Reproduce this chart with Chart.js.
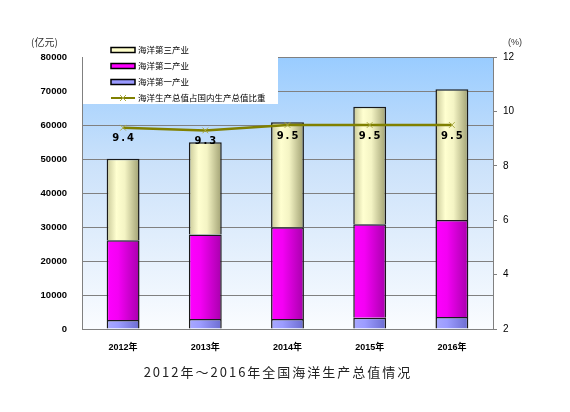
<!DOCTYPE html>
<html>
<head>
<meta charset="utf-8">
<script src="https://cdn.jsdelivr.net/npm/chart.js@4"></script>
<style>
  html, body { margin: 0; padding: 0; background: #fff; }
  #wrap { width: 570px; height: 412px; position: relative; }
</style>
</head>
<body>
<div id="wrap"><canvas id="oceanChart" width="570" height="412"></canvas></div>
<script>
// Data
const years = ['2012年', '2013年', '2014年', '2015年', '2016年'];
const primary = [2683, 2918, 2920, 3292, 3566];      // 海洋第一产业
const secondary = [23450, 24908, 27000, 27492, 28488]; // 海洋第二产业
const tertiary = [23954, 27100, 30900, 34600, 38453];  // 海洋第三产业
const gdpShare = [9.4, 9.3, 9.5, 9.5, 9.5];            // 占国内生产总值比重 (%)

const chartTitle = '2012年～2016年全国海洋生产总值情况';
const leftUnit = '(亿元)';
const rightUnit = '(%)';

const BAR_PCT = 0.4;
const latin = '"Liberation Sans", "Noto Sans CJK SC", sans-serif';
const cjk = '"Noto Sans CJK SC", sans-serif';

// horizontal "cylinder" shading for each bar
function barFill(stops) {
    return (c) => {
        const chart = c.chart;
        if (!chart.chartArea || c.dataIndex === undefined) return stops[0][1];
        const xs = chart.scales.x;
        const cx = xs.getPixelForValue(c.dataIndex);
        const half = xs.width / years.length * BAR_PCT / 2;
        const g = chart.ctx.createLinearGradient(cx - half, 0, cx + half, 0);
        stops.forEach(s => g.addColorStop(s[0], s[1]));
        return g;
    };
}

const legendItems = [
    { text: '海洋第三产业', fill: '#FFFFCC' },
    { text: '海洋第二产业', fill: '#FF00FF' },
    { text: '海洋第一产业', fill: '#9999FF' },
    { text: '海洋生产总值占国内生产总值比重', line: true }
];

const decor = {
    id: 'decor',
    beforeDraw(chart) {
        const { ctx, chartArea: a } = chart;
        ctx.save();
        ctx.fillStyle = '#fff';
        ctx.fillRect(0, 0, chart.width, chart.height);
        const g = ctx.createLinearGradient(0, a.top, 0, a.bottom);
        g.addColorStop(0, '#99CCFF');
        g.addColorStop(0.4, '#CCE2FA');
        g.addColorStop(1, '#FAFCFF');
        ctx.fillStyle = g;
        ctx.fillRect(a.left, a.top, a.right - a.left, a.bottom - a.top);
        ctx.restore();
    },
    afterDatasetsDraw(chart) {
        const { ctx } = chart;
        const meta = chart.getDatasetMeta(3);
        ctx.save();
        ctx.font = 'bold 10px "DejaVu Sans", sans-serif';
        ctx.letterSpacing = '2px';
        ctx.fillStyle = '#000';
        ctx.textAlign = 'center';
        ctx.textBaseline = 'middle';
        meta.data.forEach((pt, i) => {
            ctx.fillText(gdpShare[i].toFixed(1), pt.x + 1, pt.y + 11);
        });
        ctx.restore();
    },
    afterDraw(chart) {
        const { ctx, chartArea: a } = chart;
        ctx.save();
        // legend box
        ctx.fillStyle = '#fff';
        ctx.fillRect(a.left + 1, 38, 195, 66);
        ctx.font = '8.5px ' + cjk;
        ctx.textBaseline = 'middle';
        legendItems.forEach((it, i) => {
            const y = 50 + i * 16;
            if (it.line) {
                ctx.strokeStyle = '#808000';
                ctx.lineWidth = 2;
                ctx.beginPath(); ctx.moveTo(111, y); ctx.lineTo(135, y); ctx.stroke();
                ctx.strokeStyle = '#A8A840';
                ctx.lineWidth = 1;
                ctx.beginPath();
                ctx.moveTo(120, y - 3); ctx.lineTo(126, y + 3);
                ctx.moveTo(126, y - 3); ctx.lineTo(120, y + 3);
                ctx.stroke();
            } else {
                ctx.fillStyle = it.fill;
                ctx.fillRect(111, y - 2.5, 24, 5);
                ctx.strokeStyle = '#000';
                ctx.lineWidth = 1.5;
                ctx.strokeRect(111, y - 2.5, 24, 5);
            }
            ctx.fillStyle = '#000';
            ctx.textAlign = 'left';
            ctx.fillText(it.text, 138, y);
        });
        // units
        ctx.font = '10px ' + cjk;
        ctx.fillStyle = '#333';
        ctx.textAlign = 'left';
        ctx.fillText(leftUnit, 31, 42);
        ctx.font = '9px ' + latin;
        ctx.fillText(rightUnit, 508, 43);
        // title
        ctx.font = '13px ' + cjk;
        ctx.letterSpacing = '2px';
        ctx.fillStyle = '#222';
        ctx.textAlign = 'center';
        ctx.fillText(chartTitle, 278, 372);
        ctx.restore();
    }
};

const ctx = document.getElementById('oceanChart').getContext('2d');

new Chart(ctx, {
    data: {
        labels: years,
        datasets: [
            {
                type: 'bar', label: '海洋第一产业', data: primary, order: 1,
                backgroundColor: barFill([[0, '#A8A8FF'], [0.35, '#9C9CFF'], [1, '#6C6CD0']]),
                borderColor: '#1a1a1a', borderWidth: 1.5,
                barPercentage: BAR_PCT, categoryPercentage: 1
            },
            {
                type: 'bar', label: '海洋第二产业', data: secondary, order: 1,
                backgroundColor: barFill([[0, '#FF00FF'], [0.35, '#F400F4'], [1, '#A800AC']]),
                borderColor: '#1a1a1a', borderWidth: 1.5,
                barPercentage: BAR_PCT, categoryPercentage: 1
            },
            {
                type: 'bar', label: '海洋第三产业', data: tertiary, order: 1,
                backgroundColor: barFill([[0, '#C8C898'], [0.3, '#FFFFD0'], [0.55, '#F4F4C4'], [1, '#A0A072']]),
                borderColor: '#1a1a1a', borderWidth: 1.5,
                barPercentage: BAR_PCT, categoryPercentage: 1
            },
            {
                type: 'line', label: '海洋生产总值占国内生产总值比重', data: gdpShare, order: 0,
                yAxisID: 'y1',
                borderColor: '#808000', borderWidth: 2.5,
                pointStyle: 'crossRot', pointRadius: 4,
                pointBorderColor: '#A8A840', pointBorderWidth: 1,
                tension: 0
            }
        ]
    },
    options: {
        responsive: false,
        animation: false,
        devicePixelRatio: 1,
        layout: { padding: { top: 57, left: 0, right: 0, bottom: 0 } },
        plugins: { legend: { display: false }, tooltip: { enabled: false } },
        scales: {
            x: {
                stacked: true,
                afterFit: s => { s.height = 83; },
                grid: { display: false },
                border: { display: true, color: '#808080', width: 1 },
                ticks: { color: '#000', padding: 5, font: { family: latin, size: 9, weight: 'bold' } }
            },
            y: {
                stacked: true,
                min: 0, max: 80000,
                afterFit: s => { s.width = 82; },
                grid: { color: '#808080', lineWidth: 1, drawTicks: false },
                border: { display: true, color: '#808080', width: 1 },
                ticks: {
                    stepSize: 10000, color: '#000', padding: 15,
                    format: { useGrouping: false },
                    font: { family: latin, size: 9.5, weight: 'bold' }
                }
            },
            y1: {
                position: 'right',
                min: 2, max: 12,
                afterFit: s => { s.width = 77; },
                grid: { drawOnChartArea: false, drawTicks: true, tickLength: 4, color: '#808080' },
                border: { display: true, color: '#808080', width: 1 },
                ticks: { stepSize: 2, color: '#000', padding: 6, font: { family: latin, size: 10 } }
            }
        }
    },
    plugins: [decor]
});
</script>
</body>
</html>
